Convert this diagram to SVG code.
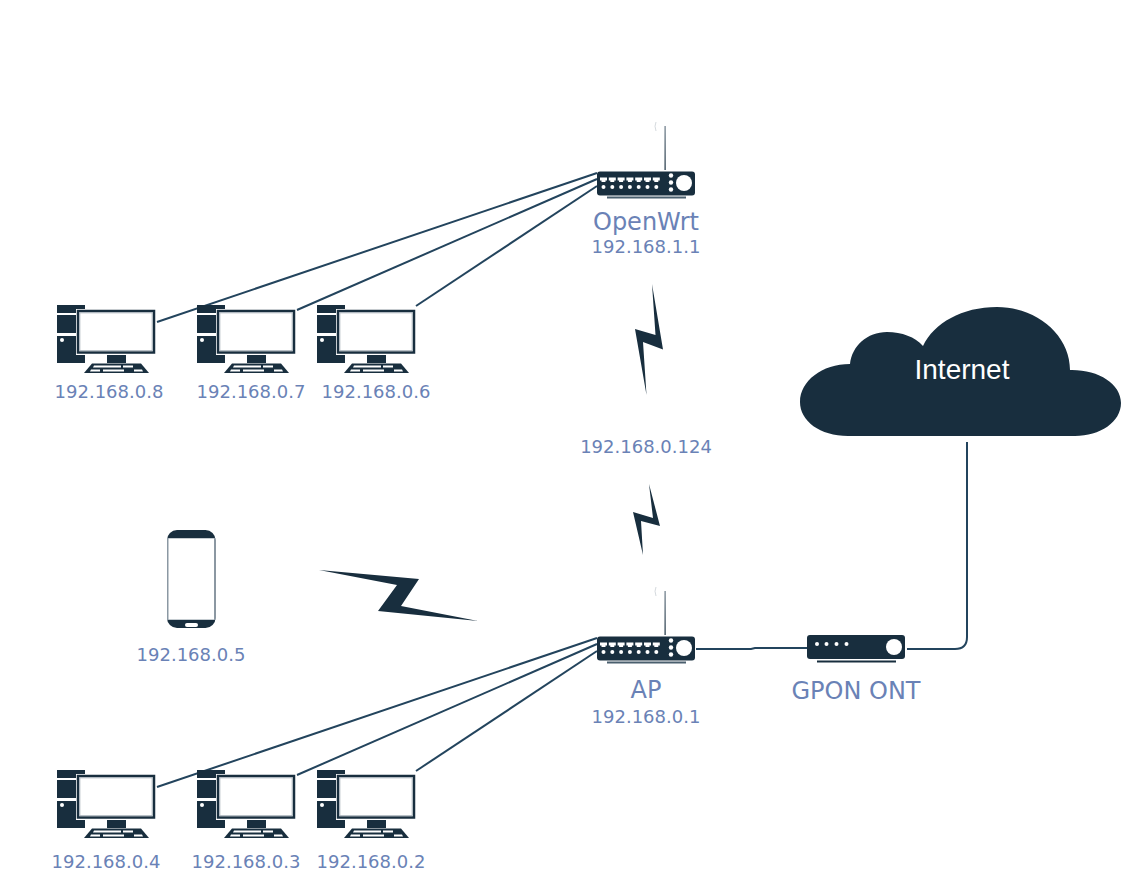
<svg xmlns="http://www.w3.org/2000/svg" xmlns:xlink="http://www.w3.org/1999/xlink" width="1127" height="890" viewBox="0 0 1127 890">
<style>
.lbl{font-family:"DejaVu Sans",sans-serif;fill:#6a82b6;text-anchor:middle}
.s{font-size:18px}.b{font-size:24px}
.d{fill:#182e3e}.w{fill:#fff}
.c{fill:none;stroke:#23445d;stroke-width:2}
</style>
<defs>
<linearGradient id="ant" x1="0" y1="0" x2="0" y2="1"><stop offset="0" stop-color="#6b7b88"/><stop offset="1" stop-color="#182e3e"/></linearGradient>
<g id="pc">
<path class="d" d="M0 0H28V4H19V8H0ZM0 10H19V28H0ZM0 31H19V50H28V58H0Z"/>
<circle class="w" cx="5" cy="35" r="2"/>
<rect x="21" y="6" width="76" height="41.500" fill="#fff" stroke="#182e3e" stroke-width="2.500"/>
<rect x="22.800" y="7.800" width="72.400" height="37.900" fill="none" stroke="#a8b2ba" stroke-width="1"/>
<rect class="d" x="50" y="50" width="19" height="8"/>
<path class="d" d="M35 58.500H84L92 68H27Z"/>
<path class="w" d="M37 60.500H64V62.500H36ZM66 60.500H76V62.500H66ZM34 64.500H43V66.500H33ZM46 64.500H67V66.500H46ZM77 64.500H85L86 66.500H77Z"/>
</g>
<g id="router">
<rect x="67.500" y="-45" width="1.200" height="44" fill="url(#ant)"/>
<path stroke="#d5dade" stroke-width="1" fill="none" d="M59 -49Q57 -45 59 -40"/>
<rect class="d" x="0" y="0.500" width="98" height="24" rx="3"/>
<g class="w">
<path d="M3 6.500H10V9.500H8.500V11H4.500V9.500H3ZM11.800 6.500H18.800V9.500H17.300V11H13.300V9.500H11.800ZM20.600 6.500H27.600V9.500H26.100V11H22.100V9.500H20.600ZM29.400 6.500H36.400V9.500H34.900V11H30.900V9.500H29.400ZM38.200 6.500H45.200V9.500H43.700V11H39.700V9.500H38.200ZM47 6.500H54V9.500H52.500V11H48.500V9.500H47ZM55.800 6.500H62.800V9.500H61.300V11H57.300V9.500H55.800Z"/>
<circle cx="6.500" cy="16" r="2"/><circle cx="15.300" cy="16" r="2"/><circle cx="24.100" cy="16" r="2"/><circle cx="32.900" cy="16" r="2"/><circle cx="41.700" cy="16" r="2"/><circle cx="50.500" cy="16" r="2"/><circle cx="59.300" cy="16" r="2"/>
<circle cx="74" cy="4.500" r="2.200"/><circle cx="74" cy="11.500" r="2.200"/><circle cx="74" cy="18.500" r="2.200"/>
<circle cx="87" cy="12" r="8"/>
</g>
<rect x="10" y="25.500" width="79" height="2" fill="#4a5f6e"/>
</g>
</defs>

<g id="connectors">
<path class="c" d="M157 322L597 173"/>
<path class="c" d="M297 310L597 179"/>
<path class="c" d="M416 306L597 186"/>
<path class="c" d="M157 787L597 638"/>
<path class="c" d="M297 775L597 644"/>
<path class="c" d="M416 771L597 651"/>
<path class="c" d="M696 649H751L755 648H807"/>
<path class="c" d="M907 649H955Q967 649 967 637V442"/>
</g>

<g id="openwrt"><use xlink:href="#router" href="#router" x="597" y="171"/>
<text class="lbl b" x="646" y="230">OpenWrt</text><text class="lbl s" x="646" y="253">192.168.1.1</text></g>
<g id="ap"><use xlink:href="#router" href="#router" x="597" y="636"/>
<text class="lbl b" x="646" y="698">AP</text><text class="lbl s" x="646" y="723">192.168.0.1</text></g>
<g id="ont">
<rect class="d" x="807" y="635" width="98" height="24" rx="3"/>
<g class="w"><circle cx="817" cy="644" r="2"/><circle cx="826.500" cy="644" r="2"/><circle cx="836.500" cy="644" r="2"/><circle cx="846.500" cy="644" r="2"/><circle cx="894" cy="647" r="8"/></g>
<rect x="817" y="660.500" width="79" height="2" class="d"/>
<text class="lbl b" x="856" y="699">GPON ONT</text></g>

<g id="pc8"><use xlink:href="#pc" href="#pc" x="57" y="305"/><text class="lbl s" x="109" y="398">192.168.0.8</text></g>
<g id="pc7"><use xlink:href="#pc" href="#pc" x="197" y="305"/><text class="lbl s" x="251" y="398">192.168.0.7</text></g>
<g id="pc6"><use xlink:href="#pc" href="#pc" x="317" y="305"/><text class="lbl s" x="376" y="398">192.168.0.6</text></g>
<g id="pc4"><use xlink:href="#pc" href="#pc" x="57" y="770"/><text class="lbl s" x="106" y="868">192.168.0.4</text></g>
<g id="pc3"><use xlink:href="#pc" href="#pc" x="197" y="770"/><text class="lbl s" x="246" y="868">192.168.0.3</text></g>
<g id="pc2"><use xlink:href="#pc" href="#pc" x="317" y="770"/><text class="lbl s" x="371" y="868">192.168.0.2</text></g>

<g id="phone">
<rect x="167" y="530" width="48.500" height="98" rx="10" class="d"/>
<rect x="167" y="538" width="48.500" height="82" fill="#8b98a3"/>
<rect x="168.500" y="538.500" width="45.500" height="81" class="w"/>
<rect x="185" y="623" width="13" height="4" rx="2" class="w"/>
<text class="lbl s" x="191" y="661">192.168.0.5</text></g>

<g id="bolt1"><path class="d" d="M652 284L663 349.500L643 342L646.500 395L635 329L655.500 335Z"/></g>
<text class="lbl s" x="646" y="453">192.168.0.124</text>
<g id="bolt2"><path class="d" d="M649 484L660 526L641 521L643 555L633 512L653 518Z"/></g>
<g id="bolt3"><path class="d" d="M319 570L419 579L401 606L478 621L378 611L397 585Z"/></g>

<g id="cloud">
<path class="d" d="M848 436C820 436 800 421 800 402C800 381 822 364 850 364C852 346 867 332 887 332C902 332 915 337 923 346C934 323 962 307 997 307C1037 307 1070 335 1070 370L1072 370C1099 370 1121 384 1121 403C1121 422 1100 436 1075 436Z"/>
<text x="962" y="378.500" font-family="Liberation Sans,sans-serif" font-size="28" fill="#fff" text-anchor="middle">Internet</text>
</g>
</svg>
